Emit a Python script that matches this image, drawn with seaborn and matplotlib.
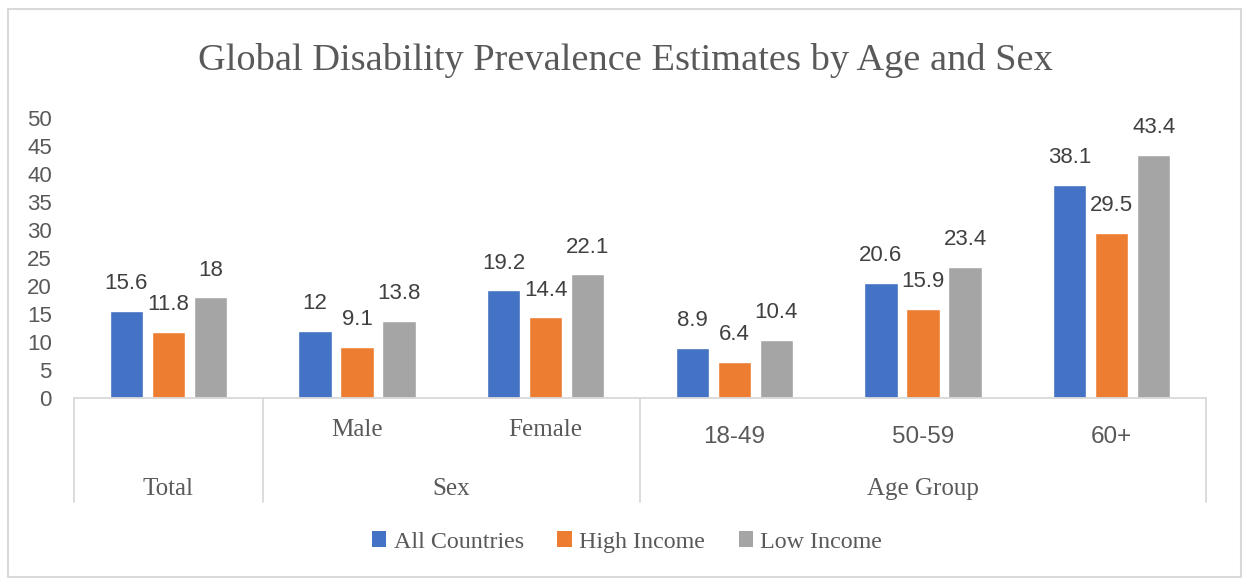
import matplotlib
matplotlib.use("Agg")
import matplotlib.pyplot as plt
import matplotlib.transforms as mtransforms
from matplotlib.patches import Rectangle, Patch
import pandas as pd
import seaborn as sns

# ---- data ----
categories = ["Total", "Male", "Female", "18-49", "50-59", "60+"]
series_names = ["All Countries", "High Income", "Low Income"]
all_countries = [15.6, 12, 19.2, 8.9, 20.6, 38.1]
high_income = [11.8, 9.1, 14.4, 6.4, 15.9, 29.5]
low_income = [18, 13.8, 22.1, 10.4, 23.4, 43.4]
groups = [("Total", ["Total"]), ("Sex", ["Male", "Female"]),
          ("Age Group", ["18-49", "50-59", "60+"])]
yticks = [0, 5, 10, 15, 20, 25, 30, 35, 40, 45, 50]
title = "Global Disability Prevalence Estimates by Age and Sex"

colors = ["#4472C4", "#ED7D31", "#A5A5A5"]
text_color = "#595959"
label_color = "#404040"
line_color = "#D9D9D9"
SERIF = ["Liberation Serif", "DejaVu Serif"]
SANS = ["Liberation Sans", "DejaVu Sans"]

rows = []
for name, vals in zip(series_names, [all_countries, high_income, low_income]):
    for cat, v in zip(categories, vals):
        rows.append({"category": cat, "series": name, "value": v})
df = pd.DataFrame(rows)

sns.set_theme(style="white")
W, H = 1246, 578
fig = plt.figure(figsize=(W / 100, H / 100), dpi=100)
fig.patch.set_facecolor("white")

# plot area in pixels: x 74..1206, y 118..398
ax = fig.add_axes([74 / W, 1 - 398 / H, (1206 - 74) / W, (398 - 118) / H])

sns.barplot(data=df, x="category", y="value", hue="series", order=categories,
            hue_order=series_names, palette=colors, width=0.668, gap=0.214,
            saturation=1, legend=False, ax=ax)

for cont in ax.containers:
    ax.bar_label(cont, fmt="{:g}", padding=12, fontsize=16,
                 color=label_color, family=SANS)

ax.set_ylim(0, 50)
ax.set_xlim(-0.5, len(categories) - 0.5)
ax.set_yticks(yticks)
ax.set_yticklabels([str(t) for t in yticks], family=SANS, fontsize=16,
                   color=text_color)
ax.tick_params(axis="y", length=0, pad=16)
ax.set_xticks([])
ax.set_xlabel("")
ax.set_ylabel("")
for side in ["top", "right", "left"]:
    ax.spines[side].set_visible(False)
ax.spines["bottom"].set_color(line_color)
ax.spines["bottom"].set_linewidth(1.3)

# ---- multi-level category axis ----
trans = mtransforms.blended_transform_factory(ax.transData, ax.transAxes)
px = 1 / (398 - 118)  # one pixel in axes-fraction units (vertical)
sep_bottom = -(502 - 398) * px
idx = 0
bounds = [-0.5]
for gname, cats in groups:
    start = idx
    for c in cats:
        if gname == "Age Group":
            ax.text(idx, -(437 - 398) * px, c, transform=trans, ha="center",
                    va="center", fontsize=17.5, family=SANS, color=text_color)
        elif gname != "Total":
            ax.text(idx, -(430 - 398) * px, c, transform=trans, ha="center",
                    va="center", fontsize=18, family=SERIF, color=text_color)
        idx += 1
    mid = (start + idx - 1) / 2
    ax.text(mid, -(489 - 398) * px, gname, transform=trans, ha="center",
            va="center", fontsize=18, family=SERIF, color=text_color)
    bounds.append(idx - 0.5)
for b in bounds:
    ax.plot([b, b], [0, sep_bottom], transform=trans, color=line_color,
            lw=1.3, clip_on=False)

# ---- title ----
fig.text(625 / W, 1 - 60 / H, title, ha="center", va="center", fontsize=27.6,
         family=SERIF, color=text_color)

# ---- legend ----
handles = [Patch(facecolor=c, edgecolor="none") for c in colors]
leg = fig.legend(handles, series_names, loc="center", ncol=3,
                 bbox_to_anchor=(627 / W, 1 - 542 / H), frameon=False,
                 handlelength=0.6, handleheight=0.6, handletextpad=0.3,
                 columnspacing=1.4,
                 prop={"family": SERIF, "size": 17.3})
for t in leg.get_texts():
    t.set_color(text_color)

# ---- outer chart border ----
fig.patches.append(Rectangle((8 / W, 1 - 577 / H), (1241 - 8) / W,
                             (577 - 9) / H, transform=fig.transFigure,
                             fill=False, edgecolor=line_color, lw=1.5))

fig.savefig("out.png", dpi=100)
